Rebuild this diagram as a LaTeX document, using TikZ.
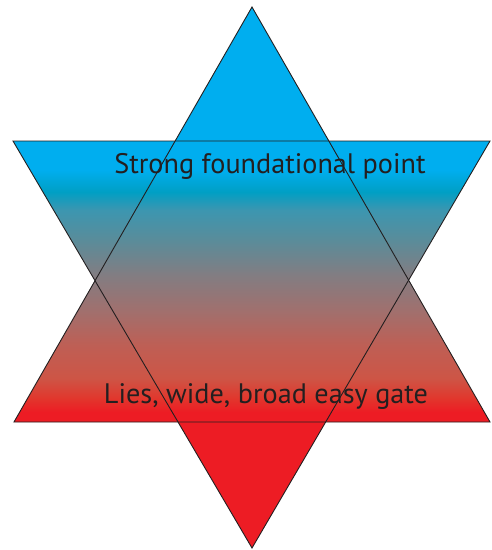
\documentclass[tikz,border=0pt]{standalone}
\usepackage{fontspec}
\setmainfont{PT Sans}
\definecolor{cyanA}{RGB}{0,174,239}
\definecolor{tealA}{RGB}{0,159,196}
\definecolor{redA}{RGB}{237,28,36}
\definecolor{inkA}{RGB}{35,31,32}
\definecolor{gA}{RGB}{225,55,45}
\definecolor{gB}{RGB}{205,85,70}
\definecolor{gC}{RGB}{190,95,85}
\definecolor{gD}{RGB}{160,112,110}
\definecolor{gE}{RGB}{130,125,130}
\definecolor{gF}{RGB}{90,140,154}
\definecolor{gG}{RGB}{60,150,176}
\pgfdeclareverticalshading{starshade}{100bp}{%
  color(0bp)=(redA); color(37.57bp)=(redA);
  color(38.86bp)=(gA);
  color(40.71bp)=(gB);
  color(43.76bp)=(gC);
  color(46.99bp)=(gD);
  color(50.23bp)=(gE);
  color(53.47bp)=(gF);
  color(56.24bp)=(gG);
  color(57.90bp)=(tealA);
  color(59.94bp)=(cyanA);
  color(100bp)=(cyanA)}
\tikzset{
  outline/.style={draw=inkA, line width=0.9pt, line join=miter},
  label/.style={text=inkA, font=\fontsize{28.2}{32}\selectfont, anchor=base, inner sep=0pt}
}
\begin{document}
\begin{tikzpicture}[x=1pt,y=-1pt]
\useasboundingbox (0,0) rectangle (491,550);
\coordinate (uT) at (252,7);
\coordinate (uL) at (14,422);
\coordinate (uR) at (490,422);
\coordinate (dL) at (13,141);
\coordinate (dR) at (490,141);
\coordinate (dB) at (252,548);
\begin{scope}
  \clip (uT) -- (uL) -- (uR) -- cycle;
  \shade[shading=starshade] (0,7) rectangle (491,548);
\end{scope}
\begin{scope}
  \clip (dL) -- (dR) -- (dB) -- cycle;
  \shade[shading=starshade] (0,7) rectangle (491,548);
\end{scope}
\draw[outline] (uT) -- (uL) -- (uR) -- cycle;
\draw[outline] (dL) -- (dR) -- (dB) -- cycle;
\node[label] (top) at (270,173) {Strong foundational point};
\node[label] (bottom) at (266,403) {Lies, wide, broad easy gate};
\end{tikzpicture}
\end{document}
